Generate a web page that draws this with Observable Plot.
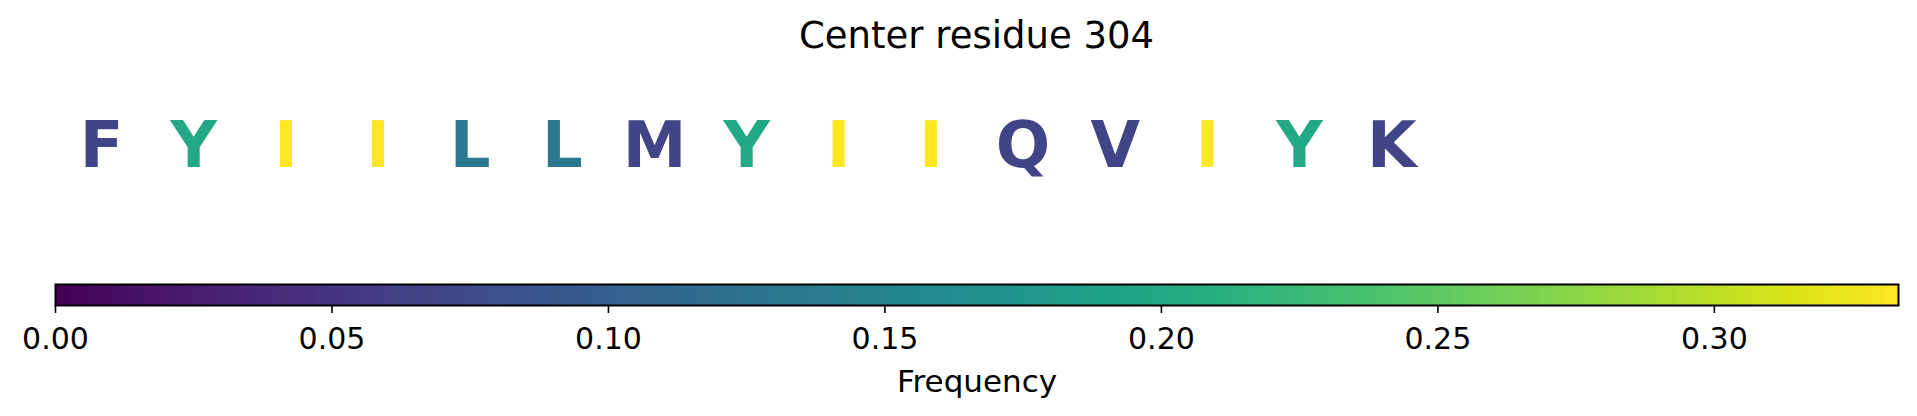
<!DOCTYPE html>
<html>
<head>
<meta charset="utf-8">
<script src="https://cdn.jsdelivr.net/npm/d3@7"></script>
<script src="https://cdn.jsdelivr.net/npm/@observablehq/plot@0.6"></script>
<style>
  html, body { margin: 0; padding: 0; background: #fff; }
  #wrap { position: relative; width: 1917px; height: 416px; overflow: hidden; font-family: "DejaVu Sans", sans-serif; }
  #wrap > * { position: absolute; left: 0; }
  #title { top: 18px; width: 1953px; text-align: center; font-size: 37px; line-height: 36px; color: #000; }
</style>
</head>
<body>
<div id="wrap">
  <div id="title">Center residue 304</div>
</div>
<script>
// Data
const title = "Center residue 304";
const slots = [0, 1, 2, 3, 4, 5, 6, 7, 8, 9, 10, 11, 12, 13, 14];
const residues = ["F", "Y", "I", "I", "L", "L", "M", "Y", "I", "I", "Q", "V", "I", "Y", "K"];
const frequency = [0.0667, 0.2, 0.3333, 0.3333, 0.1333, 0.1333, 0.0667, 0.2, 0.3333, 0.3333, 0.0667, 0.0667, 0.3333, 0.2, 0.0667];
const colorDomain = [0, 0.3333];
const tickValues = [0, 0.05, 0.10, 0.15, 0.20, 0.25, 0.30];
const slotDomain = [-0.5, 19.5];
const colorLabel = "Frequency";

const W = 1917;
const left = 55, right = 1917 - 1898;
const wrap = document.getElementById("wrap");
document.getElementById("title").textContent = title;

const rows = slots.map((s, i) => ({slot: s, residue: residues[i], freq: frequency[i]}));

// Logo letters
const logo = Plot.plot({
  width: W,
  height: 293,
  marginLeft: left,
  marginRight: right,
  marginTop: 0,
  marginBottom: 0,
  style: {fontFamily: "DejaVu Sans", background: "transparent", overflow: "visible"},
  x: {domain: slotDomain, axis: null},
  y: {domain: [0, 1], axis: null},
  color: {type: "linear", scheme: "viridis", domain: colorDomain},
  marks: [
    Plot.text(rows, {
      x: "slot",
      y: () => 0.5,
      text: "residue",
      fill: "freq",
      fontSize: 64,
      fontWeight: "bold",
      fontFamily: "DejaVu Sans",
      textAnchor: "middle",
      lineAnchor: "middle"
    })
  ]
});
logo.style.top = "0px";
wrap.appendChild(logo);

// Colorbar
const cbar = Plot.plot({
  width: W,
  height: 132,
  marginLeft: left,
  marginRight: right,
  marginTop: 0,
  marginBottom: 111,
  style: {fontFamily: "DejaVu Sans", fontSize: "30px", background: "transparent", color: "#000", overflow: "visible"},
  x: {domain: colorDomain},
  y: {domain: [0, 1], axis: null},
  color: {type: "linear", scheme: "viridis", domain: colorDomain},
  marks: [
    Plot.raster({
      x1: colorDomain[0], x2: colorDomain[1], y1: 0, y2: 1,
      width: 1843, height: 1,
      fill: (x, y) => x,
      imageRendering: "auto"
    }),
    Plot.frame({stroke: "#000", strokeWidth: 2}),
    Plot.axisX({
      ticks: tickValues,
      tickFormat: d3.format(".2f"),
      tickSize: 8,
      tickPadding: 14,
      strokeWidth: 1.6,
      fontSize: 30,
      label: null
    }),
    Plot.axisX({
      ticks: [],
      tickSize: 0,
      fontSize: 31,
      label: colorLabel,
      labelAnchor: "center",
      labelArrow: "none",
      labelOffset: 86
    })
  ]
});
cbar.style.top = "284px";
wrap.appendChild(cbar);
</script>
</body>
</html>
